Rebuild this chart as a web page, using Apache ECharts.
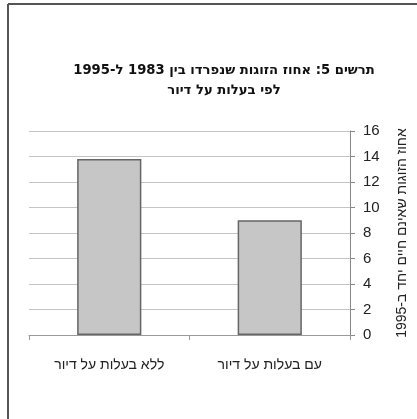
<!DOCTYPE html>
<html><head><meta charset="utf-8">
<script src="https://cdn.jsdelivr.net/npm/echarts@6/dist/echarts.min.js"></script>
<style>html,body{margin:0;padding:0;background:#fff}#c{width:417px;height:419px}</style>
</head><body><div id="c"></div>
<script>
var categories = ['ללא בעלות על דיור', 'עם בעלות על דיור'];
var values = [13.8, 9.0];
var titleLines = ['תרשים 5: אחוז הזוגות שנפרדו בין 1983 ל-1995', 'לפי בעלות על דיור'];
var yAxisName = 'אחוז הזוגות שאינם חיים יחד ב-1995';
var yMin = 0, yMax = 16, yStep = 2;

var chart = echarts.init(document.getElementById('c'));
chart.setOption({
  backgroundColor: '#fff',
  animation: false,
  graphic: [
    {type: 'line', shape: {x1: 8, y1: 4, x2: 417, y2: 4}, style: {stroke: '#555', lineWidth: 2}},
    {type: 'line', shape: {x1: 8, y1: 4, x2: 8, y2: 419}, style: {stroke: '#555', lineWidth: 2}}
  ],
  title: {
    text: titleLines.join('\n'),
    left: 219, top: 56, textAlign: 'center',
    textStyle: {fontFamily: 'DejaVu Sans', fontWeight: 'bold', fontSize: 13.2, lineHeight: 20, color: '#111'}
  },
  grid: {left: 29, right: 62, top: 131, bottom: 84},
  xAxis: {
    type: 'category', data: categories,
    axisLine: {lineStyle: {color: '#999', width: 1}},
    axisTick: {show: true, length: 5, lineStyle: {color: '#999'}},
    axisLabel: {margin: 23, fontSize: 14, color: '#222', fontFamily: 'Liberation Sans'}
  },
  yAxis: {
    type: 'value', position: 'right', min: yMin, max: yMax, interval: yStep,
    name: yAxisName, nameLocation: 'middle', nameRotate: 90, nameGap: 45,
    nameTextStyle: {fontSize: 14, color: '#222', fontFamily: 'Liberation Sans'},
    axisLine: {show: true, lineStyle: {color: '#888', width: 1}},
    axisTick: {show: true, length: 5, lineStyle: {color: '#888'}},
    axisLabel: {margin: 13, fontSize: 15, color: '#222', fontFamily: 'Liberation Sans'},
    splitLine: {show: true, lineStyle: {color: '#c4c4c4', width: 1}}
  },
  series: [{
    type: 'bar', data: values, barWidth: '40%',
    itemStyle: {color: '#c6c6c6', borderColor: '#666', borderWidth: 1.5}
  }]
});
</script></body></html>
